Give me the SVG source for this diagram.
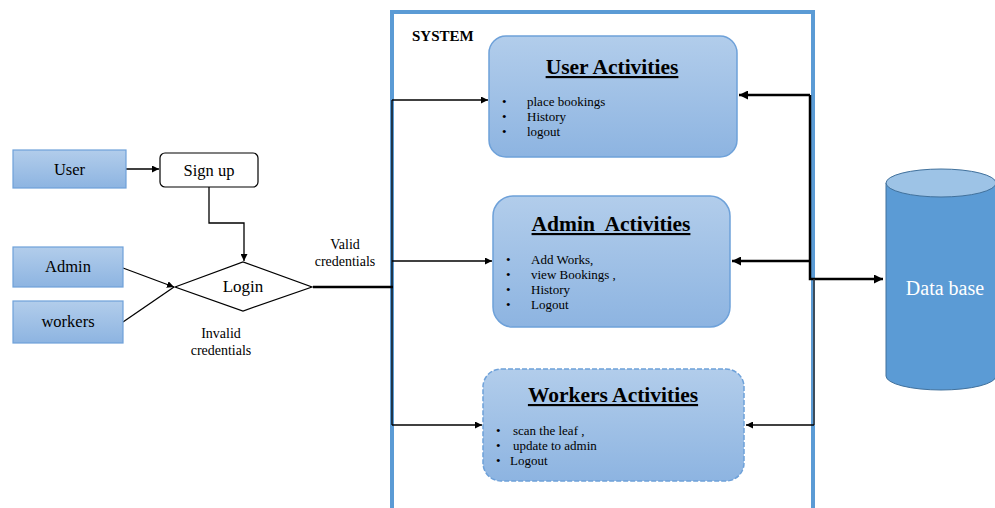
<svg xmlns="http://www.w3.org/2000/svg" width="995" height="508" viewBox="0 0 995 508" font-family="Liberation Serif">
<defs>
<linearGradient id="g" x1="0" y1="0" x2="0" y2="1">
<stop offset="0" stop-color="#b2cdeb"/>
<stop offset="1" stop-color="#8db4e1"/>
</linearGradient>
<marker id="a" viewBox="0 0 10 10" refX="10" refY="5" markerWidth="7" markerHeight="7" markerUnits="userSpaceOnUse" orient="auto">
<path d="M0,0 L10,5 L0,10 z" fill="#000"/>
</marker>
<marker id="ab" viewBox="0 0 10 10" refX="10" refY="5" markerWidth="9" markerHeight="9" markerUnits="userSpaceOnUse" orient="auto">
<path d="M0,0 L10,5 L0,10 z" fill="#000"/>
</marker>
</defs>
<style>
.box{fill:url(#g);stroke:#6ea1d9;stroke-width:1.2}
.act{fill:url(#g);stroke:#6ea1d9;stroke-width:1.5}
.title{font-size:21.5px;font-weight:bold;text-anchor:middle;text-decoration:underline}
.li{font-size:13px}
.lbl{font-size:16.5px;text-anchor:middle}
.sm{font-size:14px;text-anchor:middle}
.c{fill:none;stroke:#000;stroke-width:1.3}
.ct{fill:none;stroke:#000;stroke-width:2.5}
</style>
<rect width="995" height="508" fill="#fff"/>

<g id="system">
<rect x="392" y="12" width="421" height="520" fill="none" stroke="#5b9bd5" stroke-width="4"/>
<text x="412" y="41" font-size="15" font-weight="bold">SYSTEM</text>
</g>

<g id="connectors">
<line class="c" x1="126" y1="169" x2="159" y2="169" marker-end="url(#a)"/>
<polyline class="c" points="209,187 209,223 244,223 244,261" marker-end="url(#a)"/>
<line class="c" x1="123" y1="268" x2="174" y2="287" marker-end="url(#a)"/>
<line class="c" x1="123" y1="322" x2="174" y2="287"/>
<polyline class="ct" points="313,287 393,287" />
<line class="c" x1="392" y1="100" x2="392" y2="425"/>
<line class="c" x1="392" y1="100" x2="488" y2="100" marker-end="url(#a)"/>
<line class="c" x1="392" y1="261" x2="492" y2="261" marker-end="url(#a)"/>
<line class="c" x1="392" y1="425" x2="482" y2="425" marker-end="url(#a)"/>
<polyline class="ct" points="810,95 810,279 883,279" marker-end="url(#ab)"/>
<line class="ct" x1="810" y1="95" x2="739" y2="95" marker-end="url(#ab)"/>
<line class="ct" x1="810" y1="261" x2="732" y2="261" marker-end="url(#ab)"/>
<line x1="814" y1="279" x2="814" y2="425" stroke="#333" stroke-width="1.5"/>
<line class="c" x1="814" y1="425" x2="746" y2="425" marker-end="url(#a)"/>
</g>

<g id="user">
<rect class="box" x="13" y="150" width="113" height="38"/>
<text class="lbl" x="69.5" y="175">User</text>
</g>
<g id="signup">
<rect x="160" y="153" width="98" height="34" rx="5" fill="#fff" stroke="#000" stroke-width="1.2"/>
<text class="lbl" x="209" y="176" font-size="17">Sign up</text>
</g>
<g id="admin">
<rect class="box" x="13" y="247" width="110" height="40"/>
<text class="lbl" x="68" y="272">Admin</text>
</g>
<g id="workers">
<rect class="box" x="13" y="301" width="110" height="42"/>
<text class="lbl" x="68" y="327">workers</text>
</g>
<g id="login">
<polygon points="175,287 243,262 312,287 243,311" fill="#fff" stroke="#000" stroke-width="1.2"/>
<text class="lbl" x="243" y="292" style="font-size:17px">Login</text>
</g>
<g id="labels">
<text class="sm" x="345" y="249">Valid</text>
<text class="sm" x="345" y="266">credentials</text>
<text class="sm" x="221" y="338">Invalid</text>
<text class="sm" x="221" y="355">credentials</text>
</g>

<g id="user-activities">
<rect class="act" x="489" y="36" width="248" height="121" rx="17"/>
<text class="title" x="612" y="74">User Activities</text>
<text class="li" x="502" y="106">•</text><text class="li" x="527" y="106">place bookings</text>
<text class="li" x="502" y="121">•</text><text class="li" x="527" y="121">History</text>
<text class="li" x="502" y="136">•</text><text class="li" x="527" y="136">logout</text>
</g>

<g id="admin-activities">
<rect class="act" x="493" y="196" width="237" height="131" rx="20"/>
<text class="title" x="611" y="231" xml:space="preserve">Admin  Activities</text>
<text class="li" x="506" y="264">•</text><text class="li" x="531" y="264">Add Works,</text>
<text class="li" x="506" y="279">•</text><text class="li" x="531" y="279">view Bookings ,</text>
<text class="li" x="506" y="294">•</text><text class="li" x="531" y="294">History</text>
<text class="li" x="506" y="309">•</text><text class="li" x="531" y="309">Logout</text>
</g>

<g id="workers-activities">
<rect class="act" x="483" y="369" width="261" height="112" rx="18" stroke-dasharray="5,2"/>
<text class="title" x="613" y="402">Workers Activities</text>
<text class="li" x="496" y="435">•</text><text class="li" x="513" y="435">scan the leaf ,</text>
<text class="li" x="496" y="450">•</text><text class="li" x="513" y="450">update to admin</text>
<text class="li" x="496" y="465">•</text><text class="li" x="510" y="465">Logout</text>
</g>

<g id="database">
<path d="M886,183 L886,376 A55,14 0 0 0 996,376 L996,183 z" fill="#5b9bd5" stroke="#41719c" stroke-width="1"/>
<ellipse cx="941" cy="183" rx="55" ry="14" fill="#9dc3e6" stroke="#41719c" stroke-width="1"/>
<text x="945" y="295" font-size="20" text-anchor="middle" fill="#fff">Data base</text>
</g>
</svg>
